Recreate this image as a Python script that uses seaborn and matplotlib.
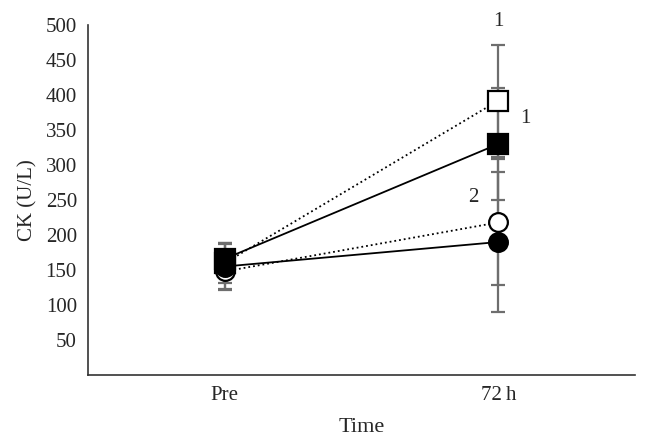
import numpy as np
import matplotlib.pyplot as plt
import pandas as pd
import seaborn as sns

# time points and group means / SDs
times = ['Pre', '72\u2009h']
open_square = [160, 392]
open_square_sd = [28, 80]
filled_square = [166, 330]
filled_square_sd = [22, 80]
open_circle = [148, 218]
open_circle_sd = [26, 90]
filled_circle = [155, 190]
filled_circle_sd = [32, 100]

sns.set_style('white')
plt.rcParams['font.family'] = ['Liberation Serif', 'DejaVu Serif']

fig = plt.figure(figsize=(6.52, 4.43), dpi=100)
ax = fig.add_axes([0.135, 0.1535, 0.839, 0.79])

series = [
    (open_square, open_square_sd, 's', 'white', ':'),
    (filled_square, filled_square_sd, 's', 'black', '-'),
    (open_circle, open_circle_sd, 'o', 'white', ':'),
    (filled_circle, filled_circle_sd, 'o', 'black', '-'),
]

x = np.arange(len(times))
# error bars first so markers sit on top
for vals, sd, mk, fc, ls in series:
    ax.errorbar(x, vals, yerr=sd, fmt='none', ecolor='#6e6e6e',
                elinewidth=1.6, capsize=5, capthick=1.6, zorder=1)

for vals, sd, mk, fc, ls in series:
    df = pd.DataFrame({'x': x, 'y': vals})
    sns.lineplot(data=df, x='x', y='y', ax=ax, color='black', linestyle=ls,
                 linewidth=1.3, marker=mk, markersize=14.5 if mk == 's' else 13.5,
                 markerfacecolor=fc, markeredgecolor='black',
                 markeredgewidth=1.6, zorder=3)

# significance labels
ax.text(1, 505, '1', ha='center', va='center', fontsize=15)
ax.text(1.1, 367, '1', ha='center', va='center', fontsize=15)
ax.text(0.91, 254, '2', ha='center', va='center', fontsize=15)

ax.set_xlim(-0.5, 1.5)
ax.set_ylim(0, 500)
ax.set_xticks(x)
ax.set_xticklabels(times)
ax.set_yticks(np.arange(50, 501, 50))
ax.set_xlabel('Time', fontsize=16, labelpad=9)
ax.set_ylabel('CK (U/L)', fontsize=15, labelpad=6)
ax.tick_params(axis='both', labelsize=15, length=0, pad=8)
sns.despine(ax=ax)
for s in ['left', 'bottom']:
    ax.spines[s].set_color('#333333')
    ax.spines[s].set_linewidth(1.2)

fig.savefig('out.png', dpi=100)
